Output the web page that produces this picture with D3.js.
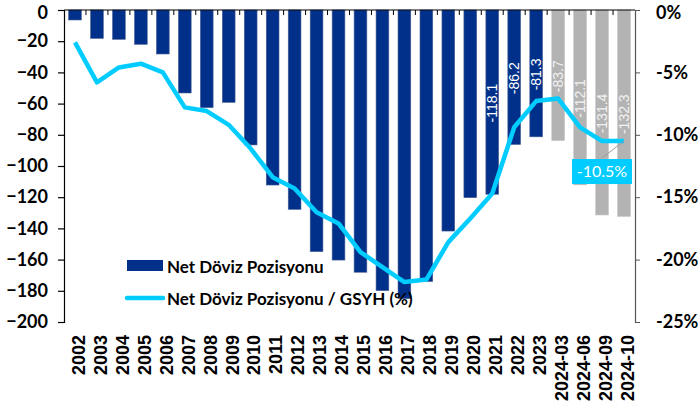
<!DOCTYPE html>
<html><head><meta charset="utf-8">
<script src="https://cdn.jsdelivr.net/npm/d3@7/dist/d3.min.js"></script>
<style>
html,body{margin:0;padding:0;background:#fff;}
svg{display:block;}
</style></head>
<body>
<svg id="chart" width="699" height="412"></svg>
<script>
const categories = ["2002","2003","2004","2005","2006","2007","2008","2009","2010","2011","2012","2013","2014","2015","2016","2017","2018","2019","2020","2021","2022","2023","2024-03","2024-06","2024-09","2024-10"];
const netPosition = [-6.4,-18.2,-18.8,-22.0,-28.2,-53.2,-62.6,-59.2,-86.5,-112.2,-127.8,-154.9,-160.3,-168.1,-179.9,-185.0,-174.0,-141.7,-120.3,-118.1,-86.2,-81.3,-83.7,-112.1,-131.4,-132.3];
const pctOfGdp = [-2.6,-5.8,-4.6,-4.3,-5.0,-7.8,-8.1,-9.2,-11.1,-13.4,-14.3,-16.2,-17.1,-19.4,-20.6,-21.8,-21.6,-18.6,-16.7,-14.7,-9.4,-7.3,-7.1,-9.4,-10.5,-10.5];
const labeledFrom = "2021";
const projectedFrom = "2024-03";
const leftTicks = [0,-20,-40,-60,-80,-100,-120,-140,-160,-180,-200];
const rightTicks = [0,-5,-10,-15,-20,-25];
const legendLabels = ["Net Döviz Pozisyonu","Net Döviz Pozisyonu / GSYH (%)"];
const calloutText = "-10.5%";

const NAVY = "#00308a", GREY = "#b3b3b3", CYAN = "#00ccff";
const svg = d3.select("#chart");
const L = 64, R = 635, T = 10, B = 322;

const x = d3.scaleBand().domain(categories).range([L, R]).paddingInner(0.42).paddingOuter(0.21);
const yL = d3.scaleLinear().domain([-200, 0]).range([B, T]);
const yR = d3.scaleLinear().domain([-25, 0]).range([B, T]);
const cx = c => x(c) + x.bandwidth() / 2;
const projIdx = categories.indexOf(projectedFrom);
const labIdx = categories.indexOf(labeledFrom);

// bars
svg.append("g").selectAll("rect").data(categories).join("rect")
  .attr("x", d => x(d)).attr("width", x.bandwidth())
  .attr("y", yL(0)).attr("height", (d, i) => yL(netPosition[i]) - yL(0))
  .attr("fill", (d, i) => i >= projIdx ? GREY : NAVY)
  .attr("stroke", (d, i) => i >= projIdx ? "#c4c4c4" : "#4a5f93").attr("stroke-width", 0.6);

// top category axis (ticks at boundaries)
const topG = svg.append("g");
topG.append("line").attr("x1", L).attr("x2", R).attr("y1", T).attr("y2", T).attr("stroke", "#000").attr("stroke-width", 1);
const step = (R - L) / categories.length;
topG.selectAll("line.t").data(d3.range(1, categories.length)).join("line").attr("class", "t")
  .attr("x1", k => L + k * step).attr("x2", k => L + k * step)
  .attr("y1", T).attr("y2", T + 5).attr("stroke", "#000").attr("stroke-width", 1);

// left axis
const gl = svg.append("g").attr("transform", `translate(${L},0)`)
  .call(d3.axisLeft(yL).tickValues(leftTicks).tickSize(6).tickPadding(10).tickFormat(d3.format("d")));
gl.select(".domain").attr("stroke", "#000").attr("stroke-width", 1.2);
gl.selectAll(".tick line").attr("stroke", "#000").attr("stroke-width", 1.2);
gl.selectAll("text").attr("font-family", "Lato, 'DejaVu Sans', sans-serif").attr("font-weight", 700).attr("font-size", 18).attr("fill", "#000");
gl.selectAll(".tick").filter(d => d === 0).select("text").attr("dy", "0.45em");

// right axis
const gr = svg.append("g").attr("transform", `translate(${R},0)`)
  .call(d3.axisRight(yR).tickValues(rightTicks).tickSize(5).tickPadding(16).tickFormat(d => d + "%"));
gr.select(".domain").attr("stroke", "#555").attr("stroke-width", 1.2);
gr.selectAll(".tick line").attr("stroke", "#555");
gr.selectAll("text").attr("font-family", "Lato, 'DejaVu Sans', sans-serif").attr("font-weight", 700).attr("font-size", 18).attr("fill", "#000");
gr.selectAll(".tick").filter(d => d === 0).select("text").attr("dy", "0.45em");

// x labels
svg.append("g").selectAll("text").data(categories).join("text")
  .attr("transform", d => `translate(${cx(d) + 3.5},335) rotate(-90)`)
  .attr("text-anchor", "end").attr("dy", "0.35em")
  .attr("font-family", "'Liberation Sans', Arial, sans-serif").attr("font-weight", 700).attr("font-size", 18)
  .attr("fill", "#000").text(d => d);

// bar value labels
svg.append("g").selectAll("text").data(categories.slice(labIdx)).join("text")
  .attr("transform", d => { const i = categories.indexOf(d); return `translate(${cx(d)},${yL(netPosition[i] / 2) + 1}) rotate(-90)`; })
  .attr("text-anchor", "middle").attr("dy", "0.35em")
  .attr("font-family", "'Liberation Sans', Arial, sans-serif").attr("font-size", 14)
  .attr("fill", d => categories.indexOf(d) >= projIdx ? "#f2f2f2" : "#fff")
  .text(d => netPosition[categories.indexOf(d)].toFixed(1));

// line
const line = d3.line().x((d, i) => cx(categories[i])).y(d => yR(d));
svg.append("path").datum(pctOfGdp).attr("d", line)
  .attr("fill", "none").attr("stroke", CYAN).attr("stroke-width", 4.5).attr("stroke-linejoin", "round");

// callout
const lastC = categories[categories.length - 1];
const px = cx(lastC), py = yR(pctOfGdp[pctOfGdp.length - 1]);
const bx = px - 52, by = py + 18;
svg.append("line").attr("x1", px - 22).attr("y1", by - 1).attr("x2", px).attr("y2", py)
  .attr("stroke", "#999").attr("stroke-width", 1);
svg.append("rect").attr("x", bx).attr("y", by).attr("width", 60).attr("height", 25).attr("fill", CYAN);
svg.append("text").attr("x", bx + 30).attr("y", by + 12.5).attr("dy", "0.35em").attr("text-anchor", "middle")
  .attr("font-family", "Lato, 'DejaVu Sans', sans-serif").attr("font-size", 16).attr("fill", "#fff").text(calloutText);

// legend
const lg = svg.append("g");
lg.append("rect").attr("x", 127).attr("y", 260).attr("width", 36).attr("height", 11).attr("fill", NAVY);
lg.append("text").attr("x", 167).attr("y", 273).text(legendLabels[0]);
lg.append("line").attr("x1", 127).attr("x2", 163).attr("y1", 298).attr("y2", 298).attr("stroke", CYAN).attr("stroke-width", 4.5).attr("stroke-linecap", "round");
lg.append("text").attr("x", 167).attr("y", 305).text(legendLabels[1]);
lg.selectAll("text").attr("font-family", "Lato, 'DejaVu Sans', sans-serif").attr("font-weight", 700).attr("font-size", 17).attr("fill", "#000");
</script>
</body></html>
